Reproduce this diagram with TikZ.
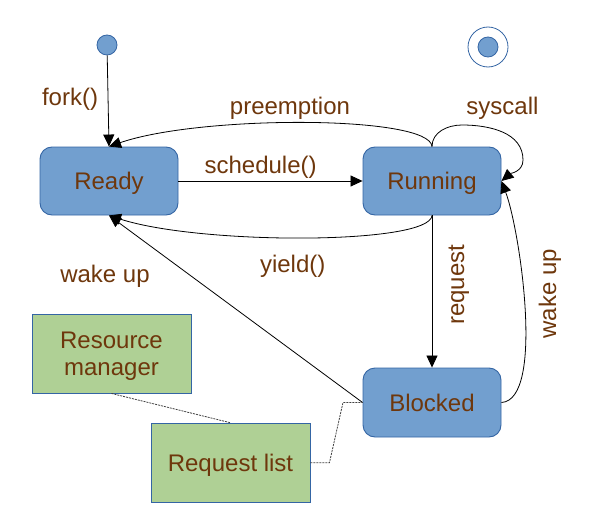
\documentclass[tikz,border=0pt]{standalone}
\usepackage{fontspec}
\setmainfont{Liberation Sans}
\usetikzlibrary{arrows.meta}
\definecolor{boxblue}{HTML}{729FCF}
\definecolor{boxborder}{HTML}{3465A4}
\definecolor{boxgreen}{HTML}{AFD095}
\definecolor{txtbrown}{RGB}{110,55,12}
\begin{document}
\begin{tikzpicture}[x=1pt,y=-1pt,
  every node/.style={font=\fontsize{24}{27}\selectfont, text=txtbrown},
  state/.style={draw=boxborder, fill=boxblue, line width=0.9pt, rounded corners=12pt,
     minimum width=138pt, minimum height=68pt, inner sep=0pt, text depth=0pt},
  note/.style={draw=boxborder, fill=boxgreen, line width=0.9pt,
     minimum width=159pt, minimum height=79pt, inner sep=0pt, align=center, text depth=0pt},
  lbl/.style={inner sep=0pt, anchor=base},
  conn/.style={line width=0.8pt, -{Triangle[length=12pt,width=11pt]}},
  dots/.style={line width=0.8pt, black!75, dash pattern=on 2pt off 1pt}]
\useasboundingbox (0,0) rectangle (597,511);

\node[state] (ready) at (109,181) {Ready};
\node[state] (running) at (432,181) {Running};
\node[state, minimum height=69pt] (blocked) at (432,402.5) {Blocked};
\node[circle, draw=boxborder, fill=boxblue, line width=0.8pt, minimum size=20pt, inner sep=0pt] (init) at (107,45) {};
\node[circle, draw=boxborder, fill=white, line width=0.8pt, minimum size=40pt, inner sep=0pt] (final) at (488,47) {};
\node[circle, draw=boxborder, fill=boxblue, line width=0.8pt, minimum size=20pt, inner sep=0pt] (finalin) at (488,47) {};

\node[note] (resmgr) at (111.5,353.5) {Resource\\[-0.5pt]manager};
\node[note] (reqlist) at (230.5,462.7) {Request list};

% connectors
\draw[conn] (init) -- (ready.north);
\draw[conn] (running.north) .. controls (430,115) and (200,115) .. (ready.north);
\draw[conn] (running.north) to[out=90,in=180] (462,125) coordinate (sy1)
   to[out=0,in=90] (523,160) coordinate (sy2) to[out=-90,in=40] (running.east);
\draw[conn] (ready.east) -- (running.west);
\draw[conn] (running.south) .. controls (430,245) and (200,245) .. (ready.south);
\draw[conn] (running.south) -- (blocked.north);
\draw[conn] (blocked.east) .. controls (545,400) and (520,230) .. (running.east);
\draw[conn] (blocked.west) -- (ready.south);

\draw[dots] (resmgr.south) -- (reqlist.north);
\draw[dots] (reqlist.east) -- ++(19,0) coordinate (d1) -- (343,402.5) coordinate (d2) -- (blocked.west);

% labels
\node[lbl] (lfork) at (70,105) {fork()};
\node[lbl] (lpre) at (290,114) {preemption};
\node[lbl] (lsched) at (260.6,173.3) {schedule()};
\node[lbl] (lsys) at (502.5,114) {syscall};
\node[lbl] (lyield) at (292.7,272.7) {yield()};
\node[lbl] (lwake) at (105,282.3) {wake up};
\node[lbl, rotate=90] (lreq) at (464,284.7) {request};
\node[lbl, rotate=90] (lwake2) at (556,293.8) {wake up};
\end{tikzpicture}
\end{document}
